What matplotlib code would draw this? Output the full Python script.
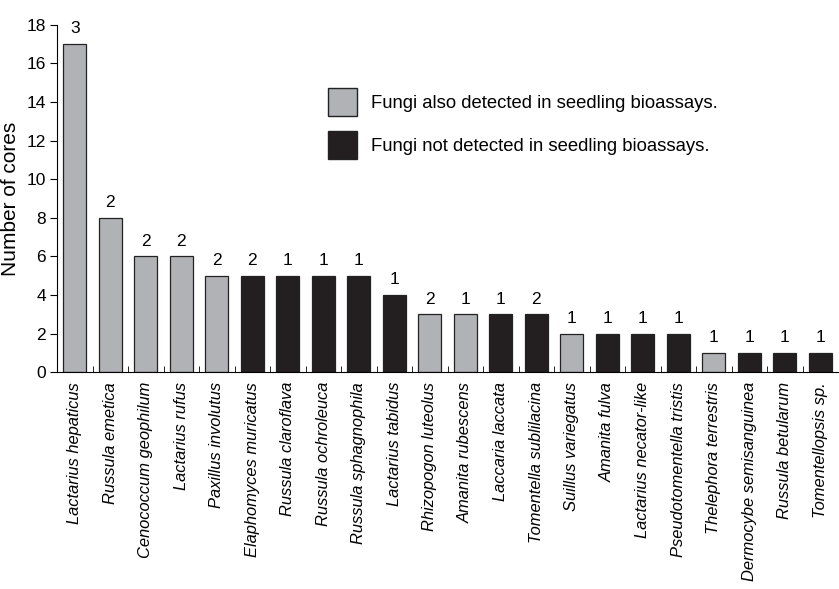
import matplotlib
matplotlib.use("Agg")
import matplotlib.pyplot as plt
from matplotlib.patches import Patch
import numpy as np

species = [
    "Lactarius hepaticus", "Russula emetica", "Cenococcum geophilum",
    "Lactarius rufus", "Paxillus involutus", "Elaphomyces muricatus",
    "Russula claroflava", "Russula ochroleuca", "Russula sphagnophila",
    "Lactarius tabidus", "Rhizopogon luteolus", "Amanita rubescens",
    "Laccaria laccata", "Tomentella sublilacina", "Suillus variegatus",
    "Amanita fulva", "Lactarius necator-like", "Pseudotomentella tristis",
    "Thelephora terrestris", "Dermocybe semisanguinea", "Russula betularum",
    "Tomentellopsis sp.",
]
cores = [17, 8, 6, 6, 5, 5, 5, 5, 5, 4, 3, 3, 3, 3, 2, 2, 2, 2, 1, 1, 1, 1]
sites = [3, 2, 2, 2, 2, 2, 1, 1, 1, 1, 2, 1, 1, 2, 1, 1, 1, 1, 1, 1, 1, 1]
# True = also detected in seedling bioassays
in_bioassay = [True, True, True, True, True, False, False, False, False, False,
               True, True, False, False, True, False, False, False, True,
               False, False, False]

GREY = "#b1b2b6"
BLACK = "#231f20"

plt.rcParams["font.family"] = ["Liberation Sans", "DejaVu Sans"]

fig = plt.figure(figsize=(8.39, 5.89), dpi=100)
ax = fig.add_axes([0.068, 0.368, 0.931, 0.59])

x = np.arange(len(species))
colors = [GREY if b else BLACK for b in in_bioassay]
ax.bar(x, cores, width=0.65, color=colors, edgecolor="#222222", linewidth=0.9,
       zorder=2)
for xi, c, s in zip(x, cores, sites):
    ax.text(xi, c + 0.4, str(s), ha="center", va="bottom", fontsize=12.5)

ax.set_xlim(-0.5, len(species) - 0.5)
ax.set_ylim(0, 18)
ax.set_yticks(range(0, 19, 2))
ax.tick_params(axis="y", labelsize=12.5, direction="out", length=5, pad=3)
ax.set_ylabel("Number of cores", fontsize=15)
ax.yaxis.set_label_coords(-0.047, 0.5)

ax.set_xticks(x)
ax.set_xticklabels(species, rotation=90, style="italic", fontsize=11.9)
ax.tick_params(axis="x", length=0, pad=7)
ax.set_xticks(x[:-1] + 0.5, minor=True)
ax.tick_params(axis="x", which="minor", direction="in", length=4)

for side in ("top", "right"):
    ax.spines[side].set_visible(False)

handles = [
    Patch(facecolor=GREY, edgecolor="#222222", label="Fungi also detected in seedling bioassays."),
    Patch(facecolor=BLACK, edgecolor="#222222", label="Fungi not detected in seedling bioassays."),
]
ax.legend(handles=handles, loc="upper left", bbox_to_anchor=(0.325, 0.865),
          frameon=False, fontsize=13.3, handlelength=1.6, handleheight=1.95,
          handletextpad=0.75, labelspacing=0.8)

fig.savefig("out.png", dpi=100)
